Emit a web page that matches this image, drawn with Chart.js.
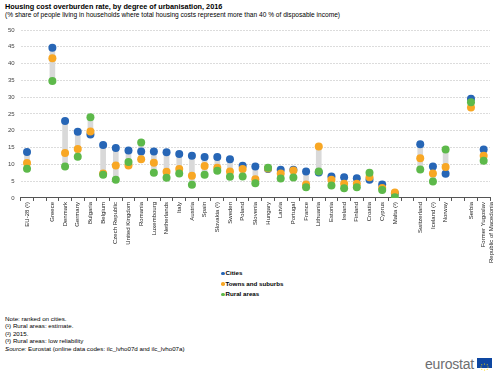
<!DOCTYPE html>
<html><head><meta charset="utf-8">
<script src="https://cdn.jsdelivr.net/npm/chart.js@4"></script>
<style>
html,body{margin:0;padding:0;background:#fff;}
body{width:500px;height:378px;position:relative;overflow:hidden;font-family:"Liberation Sans",Arial,sans-serif;color:#000;}
#title{position:absolute;left:5px;top:2px;font-size:7.3px;font-weight:bold;white-space:nowrap;}
#sub{position:absolute;left:5px;top:11px;font-size:6.6px;white-space:nowrap;}
#wrap{position:absolute;left:0;top:0;width:500px;height:264px;}
#legend{position:absolute;left:221px;top:268px;font-size:6.2px;font-weight:bold;line-height:10.5px;}
#legend span.m{display:inline-block;width:3.5px;height:3.5px;border-radius:50%;margin-right:1px;vertical-align:middle;}
#notes{position:absolute;left:5px;top:315px;font-size:6.2px;line-height:7.4px;white-space:nowrap;}
#logo{position:absolute;left:425px;top:356px;font-size:14px;color:#6d6e71;letter-spacing:-0.2px;}
#flag{position:absolute;left:477px;top:358px;width:15px;height:10px;background:#0e47a1;}
</style></head>
<body>
<div id="title">Housing cost overburden rate, by degree of urbanisation, 2016</div>
<div id="sub">(% share of people living in households where total housing costs represent more than 40 % of disposable income)</div>
<div id="wrap"><canvas id="c" width="500" height="264"></canvas></div>
<div id="legend">
<div><span class="m" style="background:#2766b6"></span>Cities</div>
<div><span class="m" style="background:#f8a724"></span>Towns and suburbs</div>
<div><span class="m" style="background:#5db94a"></span>Rural areas</div>
</div>
<div id="notes">
Note: ranked on cities.<br>
(¹) Rural areas: estimate.<br>
(²) 2015.<br>
(³) Rural areas: low reliability<br>
<i>Source:</i> Eurostat (online data codes: ilc_lvho07d and ilc_lvho07a)
</div>
<div id="logo">eurostat</div>
<div id="flag"><svg width="15" height="10"><g fill="#ffdd00"><circle cx="7.5" cy="2" r="0.6"/><circle cx="10.25" cy="2.75" r="0.6"/><circle cx="11" cy="5" r="0.6"/><circle cx="10.25" cy="7.25" r="0.6"/><circle cx="7.5" cy="8" r="0.6"/><circle cx="4.75" cy="7.25" r="0.6"/><circle cx="4" cy="5" r="0.6"/><circle cx="4.75" cy="2.75" r="0.6"/></g></svg></div>
<script>
const categories = ["EU-28 (¹)", "", "Greece", "Denmark", "Germany", "Bulgaria", "Belgium", "Czech Republic", "United Kingdom", "Romania", "Luxembourg", "Netherlands", "Italy", "Austria", "Spain", "Slovakia (¹)", "Sweden", "Poland", "Slovenia", "Hungary", "Latvia", "Portugal", "France", "Lithuania", "Estonia", "Ireland", "Finland", "Croatia", "Cyprus", "Malta (³)", " ", "Switzerland", "Iceland (²)", "Norway", "  ", "Serbia", ["Former Yugoslav", "Republic of Macedonia"]];
const cities = [13.7, null, 44.7, 22.9, 19.7, 18.9, 15.8, 14.9, 14.1, 13.8, 13.8, 13.6, 13.1, 12.6, 12.2, 12.2, 11.5, 9.6, 9.4, 8.6, 8.4, 8.4, 7.9, 7.6, 6.4, 6.2, 5.9, 5.4, 4.0, 1.3, null, 16.0, 9.4, 7.2, null, 29.5, 14.4];
const towns = [10.4, null, 41.6, 13.4, 14.6, 19.8, 7.3, 9.7, 9.7, 11.5, 10.5, 7.8, 8.6, 6.6, 9.5, 9.0, 7.9, 8.6, 5.6, 8.8, 7.3, 8.2, 4.0, 15.3, 5.4, 4.2, 4.2, 6.2, 3.0, 1.6, null, 11.8, 7.3, 9.2, null, 26.9, 12.6];
const rural = [8.7, null, 34.8, 9.4, 12.3, 24.0, 6.9, 5.4, 10.7, 16.5, 7.5, 6.0, 7.3, 3.9, 6.9, 8.1, 6.3, 6.4, 4.4, 9.0, 5.8, 6.1, 3.2, 7.9, 3.7, 2.9, 3.2, 7.5, 2.4, 0.2, null, 8.5, 4.9, 14.4, null, 28.5, 11.1];
const yTicks = [0, 5, 10, 15, 20, 25, 30, 35, 40, 45, 50];

const ranges = categories.map((_, i) => {
  const v = [cities[i], towns[i], rural[i]].filter(x => x !== null);
  return v.length ? [Math.min(...v), Math.max(...v)] : null;
});

const pt = (label, data, color) => ({
  type: 'line', label, data, showLine: false,
  pointRadius: 4, pointHoverRadius: 4, pointBackgroundColor: color,
  pointBorderWidth: 0, borderColor: color, backgroundColor: color
});

new Chart(document.getElementById('c'), {
  type: 'bar',
  data: {
    labels: categories,
    datasets: [
      pt('Rural areas', rural, '#5db94a'),
      pt('Towns and suburbs', towns, '#f8a724'),
      pt('Cities', cities, '#2766b6'),
      { type: 'bar', label: 'range', data: ranges, backgroundColor: '#d9d9d9', barThickness: 5, borderSkipped: false }
    ]
  },
  options: {
    responsive: false, animation: false,
    layout: { padding: { top: 30, right: 10, left: 2, bottom: 0 } },
    plugins: { legend: { display: false }, tooltip: { enabled: false } },
    scales: {
      x: {
        offset: true,
        grid: { display: true, offset: true, drawOnChartArea: false, drawTicks: true, tickLength: 3, color: '#555' },
        border: { display: true, color: '#555', width: 1 },
        ticks: { autoSkip: false, maxRotation: 90, minRotation: 90, padding: 1, color: '#222',
                 font: { family: 'Liberation Sans', size: 6 } }
      },
      y: {
        min: 0, max: 50,
        afterBuildTicks: ax => { ax.ticks = yTicks.map(v => ({ value: v })); },
        grid: { color: '#dcdcdc', drawTicks: false },
        border: { display: false, dash: [2, 1] },
        ticks: { padding: 6, color: '#444', font: { family: 'Liberation Sans', size: 6 } }
      }
    }
  }
});
</script>
</body></html>
